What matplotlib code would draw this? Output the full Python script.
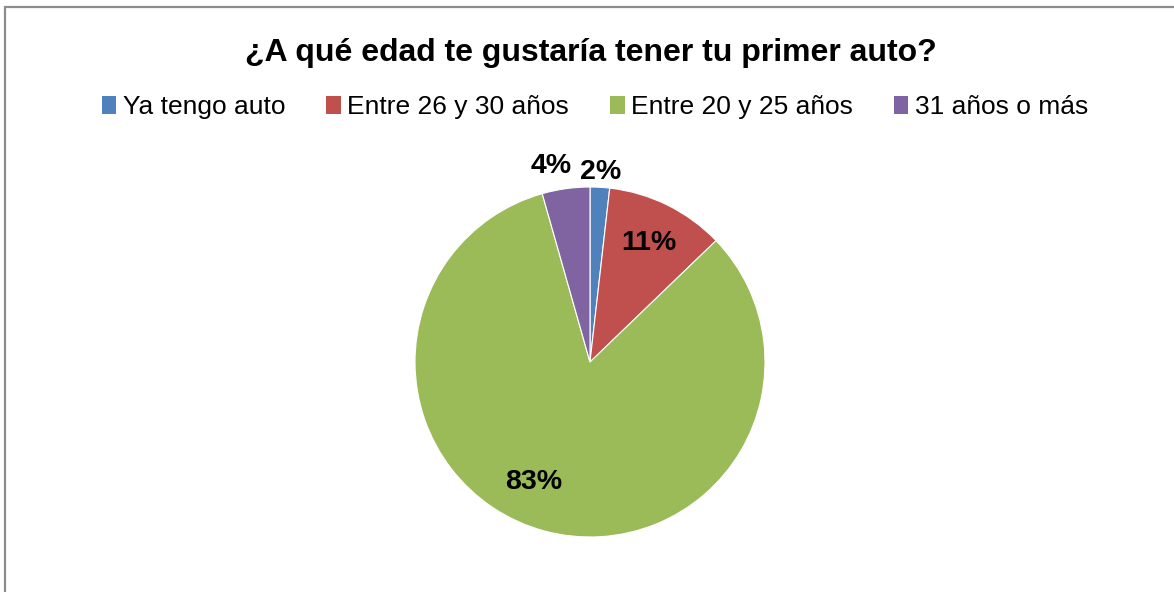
import numpy as np
import matplotlib
matplotlib.use("Agg")
import matplotlib.pyplot as plt
from matplotlib.patches import Patch, Rectangle

plt.rcParams['font.family'] = ['Liberation Sans', 'DejaVu Sans']

title = "¿A qué edad te gustaría tener tu primer auto?"
categories = ["Ya tengo auto", "Entre 26 y 30 años", "Entre 20 y 25 años", "31 años o más"]
values = [1.8, 11.0, 82.8, 4.4]
colors = ["#4F81BD", "#C0504D", "#9BBB59", "#8064A2"]

# label placement styles (radius fraction, angular offset deg)
label_r = [1.09, 0.76, 0.755, 1.14]
label_dtheta = [0, 0, -10, 3.3]

W, H = 1174, 592
fig = plt.figure(figsize=(W / 100, H / 100), dpi=100)
fig.patch.set_facecolor("white")

# chart border (only top/left visible)
fig.patches.append(Rectangle((5 / W, -0.1), 1.2, 1.1 - 7 / H, transform=fig.transFigure,
                             fill=False, edgecolor="#8c8c8c", linewidth=1.6))

cx, cy, R = 590, 362, 175
ax = fig.add_axes([(cx - R) / W, (H - cy - R) / H, 2 * R / W, 2 * R / H])
wedges, _ = ax.pie(values, colors=colors, startangle=90, counterclock=False, radius=1,
                   wedgeprops=dict(edgecolor="white", linewidth=0.8))
ax.set_xlim(-1, 1)
ax.set_ylim(-1, 1)
ax.set_aspect("equal")
ax.axis("off")

total = sum(values)
for w, v, r, dt in zip(wedges, values, label_r, label_dtheta):
    mid = np.deg2rad((w.theta1 + w.theta2) / 2 + dt)
    ax.text(r * np.cos(mid), r * np.sin(mid), f"{round(100 * v / total):d}%",
            ha="center", va="center", fontsize=20.5, fontweight="bold", color="black",
            clip_on=False)

fig.text(591 / W, 1 - 53 / H, title, ha="center", va="center", fontsize=23, fontweight="bold")

handles = [Patch(facecolor=c, edgecolor="none") for c in colors]
fig.legend(handles, categories, loc="center", bbox_to_anchor=(595 / W, 1 - 107 / H), ncol=4,
           frameon=False, fontsize=19, handlelength=0.55, handleheight=0.7,
           handletextpad=0.25, columnspacing=1.55)

fig.savefig("out.png", dpi=100, facecolor="white")
